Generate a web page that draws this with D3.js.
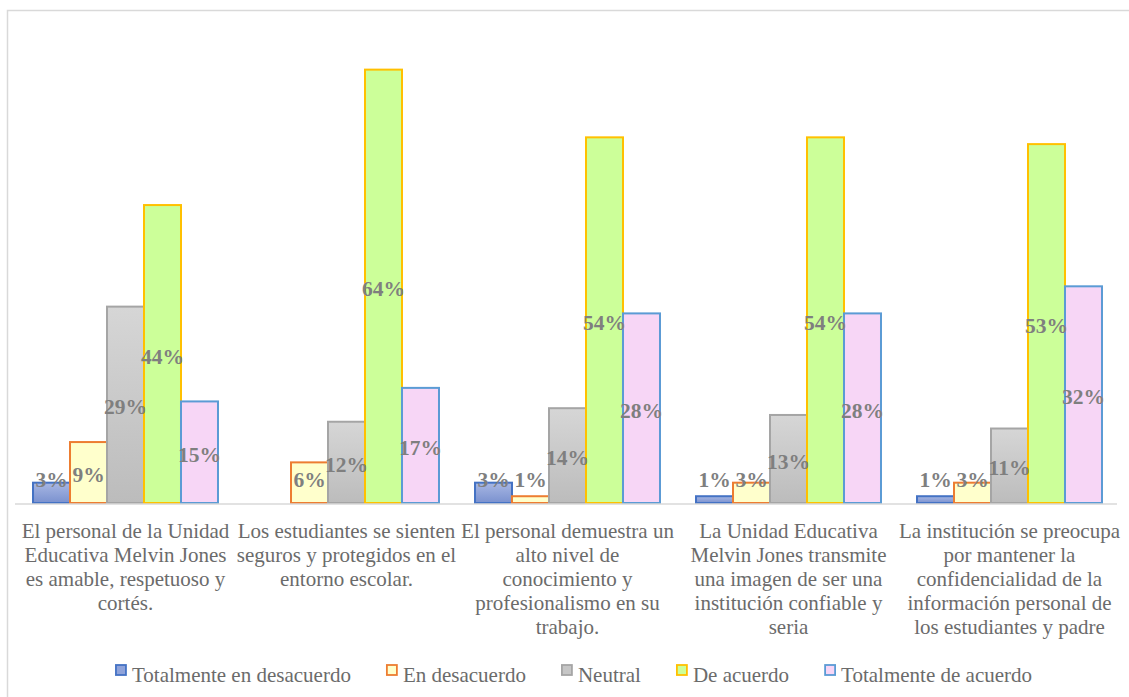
<!DOCTYPE html>
<html>
<head>
<meta charset="utf-8">
<script src="https://cdn.jsdelivr.net/npm/d3@7"></script>
</head>
<body style="margin:0">
<svg id="chart" width="1129" height="697" font-family="Liberation Serif"></svg>
<script>
// Survey statements (x-axis categories), wrapped as they appear under each group
const categories = [
  ["El personal de la Unidad", "Educativa Melvin Jones", "es amable, respetuoso y", "cortés."],
  ["Los estudiantes se sienten", "seguros y protegidos en el", "entorno escolar."],
  ["El personal demuestra un", "alto nivel de", "conocimiento y", "profesionalismo en su", "trabajo."],
  ["La Unidad Educativa", "Melvin Jones transmite", "una imagen de ser una", "institución confiable y", "seria"],
  ["La institución se preocupa", "por mantener la", "confidencialidad de la", "información personal de", "los estudiantes y padre"]
];

const seriesNames = ["Totalmente en desacuerdo", "En desacuerdo", "Neutral", "De acuerdo", "Totalmente de acuerdo"];

// Percentage of responses per statement
const totalmenteDesacuerdo = [3, 0, 3, 1, 1];
const enDesacuerdo = [9, 6, 1, 3, 3];
const neutral = [29, 12, 14, 13, 11];
const deAcuerdo = [44, 64, 54, 54, 53];
const totalmenteAcuerdo = [15, 17, 28, 28, 32];

const seriesValues = [totalmenteDesacuerdo, enDesacuerdo, neutral, deAcuerdo, totalmenteAcuerdo];

const fills = ["url(#gBlue)", "#ffffcc", "url(#gGray)", "#ccff99", "#f7d6f6"];
const strokes = ["#4472c4", "#ed7d31", "#a5a5a5", "#ffc000", "#5b9bd5"];
const legendFills = ["#8fa3da", "#ffffcc", "#c6c6c6", "#ccff99", "#f7d6f6"];

const FONT = "Liberation Serif";
const svg = d3.select("#chart");

// gradients for the first and third series
const defs = svg.append("defs");
const gb = defs.append("linearGradient").attr("id", "gBlue").attr("x1", 0).attr("y1", 0).attr("x2", 0).attr("y2", 1);
gb.append("stop").attr("offset", "0%").attr("stop-color", "#a8b7e3");
gb.append("stop").attr("offset", "100%").attr("stop-color", "#7a91cf");
const gg = defs.append("linearGradient").attr("id", "gGray").attr("x1", 0).attr("y1", 0).attr("x2", 0).attr("y2", 1);
gg.append("stop").attr("offset", "0%").attr("stop-color", "#d6d6d6");
gg.append("stop").attr("offset", "100%").attr("stop-color", "#bcbcbc");

// chart frame
svg.append("rect")
  .attr("x", 7.5).attr("y", 10.5)
  .attr("width", 1140).attr("height", 720)
  .attr("fill", "#fff").attr("stroke", "#d9d9d9").attr("stroke-width", 1.5);

const plot = { left: 15, right: 1120, top: 29, bottom: 503 };

const x0 = d3.scaleBand()
  .domain(d3.range(categories.length))
  .range([plot.left, plot.right])
  .paddingInner(0).paddingOuter(0);

const groupInner = x0.bandwidth() * 0.837;
const x1 = d3.scaleBand()
  .domain(d3.range(seriesNames.length))
  .range([(x0.bandwidth() - groupInner) / 2, (x0.bandwidth() + groupInner) / 2])
  .padding(0);

const y = d3.scaleLinear().domain([0, 70]).range([plot.bottom, plot.top]);

// bars
const rows = [];
seriesValues.forEach((vals, s) => vals.forEach((v, c) => rows.push({ s, c, v })));

const g = svg.append("g");
g.selectAll("rect.bar")
  .data(rows.filter(d => d.v > 0))
  .join("rect")
  .attr("class", "bar")
  .attr("x", d => x0(d.c) + x1(d.s))
  .attr("y", d => y(d.v))
  .attr("width", x1.bandwidth())
  .attr("height", d => y(0) - y(d.v))
  .attr("fill", d => fills[d.s])
  .attr("stroke", d => strokes[d.s])
  .attr("stroke-width", 2);

// baseline
svg.append("line")
  .attr("x1", plot.left).attr("x2", plot.right - 3)
  .attr("y1", y(0) + 1).attr("y2", y(0) + 1)
  .attr("stroke", "#d9d9d9").attr("stroke-width", 1.5);

// value labels, centred in each bar and lifted for short bars
g.selectAll("text.val")
  .data(rows.filter(d => d.v > 0))
  .join("text")
  .attr("class", "val")
  .attr("x", d => x0(d.c) + x1(d.s) + x1.bandwidth() / 2)
  .attr("y", d => Math.min((y(d.v) + y(0)) / 2 + 2, y(0) - 24))
  .attr("dy", "0.35em")
  .attr("text-anchor", "middle")
  .attr("font-family", FONT)
  .attr("font-weight", "bold")
  .attr("font-size", 21.5)
  .attr("fill", "#7f7f7f")
  .text(d => d.v + "%");

// category labels
const cat = svg.append("g").selectAll("text")
  .data(categories)
  .join("text")
  .attr("font-family", FONT)
  .attr("font-size", 21)
  .attr("fill", "#6b6b6b")
  .attr("text-anchor", "middle");
cat.each(function (lines, i) {
  const cx = x0(i) + x0.bandwidth() / 2;
  d3.select(this).selectAll("tspan")
    .data(lines)
    .join("tspan")
    .attr("x", cx)
    .attr("y", (d, k) => 538 + k * 24)
    .text(d => d);
});

// legend
const legend = svg.append("g");
const items = legend.selectAll("g")
  .data(seriesNames)
  .join("g");
items.append("rect")
  .attr("width", 10).attr("height", 10)
  .attr("y", -11)
  .attr("fill", (d, i) => legendFills[i])
  .attr("stroke", (d, i) => strokes[i])
  .attr("stroke-width", 1.8);
items.append("text")
  .attr("x", 16)
  .attr("y", 0)
  .attr("dy", "0.3em")
  .attr("font-family", FONT)
  .attr("font-size", 21)
  .attr("fill", "#6b6b6b")
  .text(d => d);

const gap = 36;
const widths = [];
items.each(function () {
  widths.push(16 + d3.select(this).select("text").node().getComputedTextLength());
});
const total = d3.sum(widths) + gap * (widths.length - 1);
let cursor = 574 - total / 2;
items.each(function (d, i) {
  d3.select(this).attr("transform", `translate(${cursor},${676})`);
  cursor += widths[i] + gap;
});
</script>
</body>
</html>
